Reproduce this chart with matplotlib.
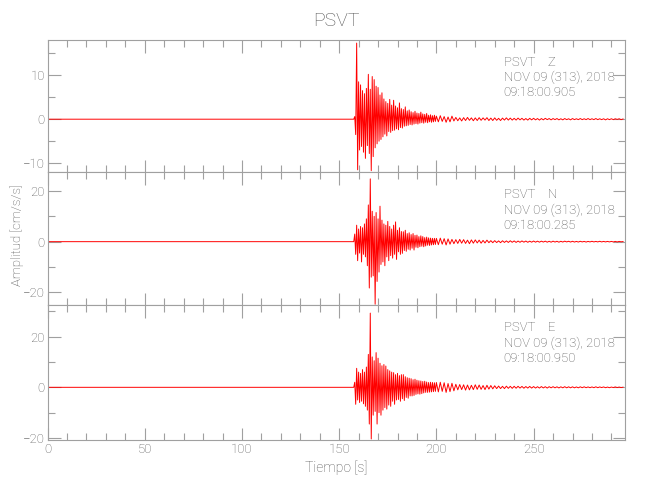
"""
Sismograma de aceleracion PSVT (Z, N, E)
Evento NOV 09 (313), 2018
"""
import numpy as np
import matplotlib
matplotlib.use('Agg')
import matplotlib.pyplot as plt
from matplotlib.ticker import MultipleLocator

# Estacion y componentes
estacion = 'PSVT'
componentes = ['Z', 'N', 'E']
fecha = 'NOV 09 (313), 2018'
horas = ['09:18:00.905', '09:18:00.285', '09:18:00.950']

# Muestreo: parte fuerte cada 0.5 s, cola cada 1 s
t_inicio = 158.0
dt_fuerte = 0.5
dt_cola = 1.0
t_cola = 200.0

# Componente Z [cm/s/s]
z_fuerte = [0.6, -3.5, 17.3, -11.5, 8.5, -7.0, 7.8, -6.2, 6.5, -7.5,
            5.8, -8.9, 7.0, -6.0, 10.2, -7.8, 6.8, -11.7, 9.7, -8.5,
            9.0, -6.5, 7.5, -5.6, 7.2, -5.0, 5.5, -4.6, 6.0, -4.0,
            4.6, -3.4, 4.0, -3.8, 3.6, -2.8, 4.5, -3.0, 3.2, -2.6,
            4.3, -2.5, 3.0, -2.2, 2.6, -2.4, 3.7, -1.9, 2.4, -2.0,
            2.2, -1.6, 2.8, -1.5, 1.9, -1.4, 2.1, -1.2, 1.7, -1.3,
            1.5, -1.1, 1.8, -1.0, 1.4, -1.1, 1.3, -0.9, 1.6, -0.8,
            1.2, -0.9, 1.1, -0.7, 1.3, -0.8, 0.9, -0.6, 1.0, -0.7,
            0.8, -0.6, 0.9, -0.5]
z_cola = [0.7, -0.6, 0.8, -0.5, 0.6, -0.7, 0.5, -0.6, 0.7, -0.4,
          0.4, -0.35, 0.3, -0.4, 0.35, -0.3, 0.4, -0.25, 0.3, -0.35,
          0.3, -0.3, 0.35, -0.25, 0.3, -0.2, 0.35, -0.3, 0.25, -0.3,
          0.3, -0.25, 0.2, -0.3, 0.25, -0.2, 0.3, -0.2, 0.25, -0.2,
          0.2, -0.2, 0.25, -0.15, 0.2, -0.2, 0.15, -0.2, 0.2, -0.15,
          0.2, -0.15, 0.15, -0.2, 0.15, -0.15, 0.2, -0.1, 0.15, -0.15,
          0.15, -0.1, 0.15, -0.15, 0.1, -0.15, 0.15, -0.1, 0.1, -0.15,
          0.15, -0.1, 0.1, -0.1, 0.15, -0.1, 0.1, -0.1, 0.15, -0.1,
          0.1, -0.1, 0.15, -0.1, 0.1, -0.1, 0.1, -0.15, 0.1, -0.1,
          0.1, -0.1, 0.1, -0.05, 0.1, -0.1, 0.05]

# Componente N [cm/s/s]
n_fuerte = [3.0, -5.0, 6.5, -7.5, 5.0, -4.5, 6.0, -8.0, 5.5, -5.0,
            7.0, -6.0, 9.0, -9.5, 14.5, -18.3, 24.8, -14.0, 12.0, -13.5,
            10.0, -24.7, 11.5, -15.7, 9.0, -12.0, 14.0, -9.0, 8.5, -8.0,
            7.0, -9.5, 6.5, -6.0, 8.0, -7.5, 6.0, -5.5, 5.0, -6.5,
            6.5, -5.0, 7.8, -7.0, 4.5, -4.0, 5.5, -5.0, 4.0, -4.6,
            3.9, -3.5, 4.5, -3.8, 3.2, -3.0, 3.5, -3.3, 2.8, -2.6,
            3.2, -3.3, 2.5, -2.2, 2.6, -2.4, 2.0, -2.0, 2.3, -1.8,
            2.0, -2.0, 1.6, -1.7, 1.8, -1.4, 1.5, -1.5, 1.4, -1.3,
            1.3, -1.2, 1.3, -1.1]
n_cola = [1.3, -1.2, 1.4, -1.0, 1.2, -1.3, 1.1, -1.0, 0.9, -0.8,
          0.8, -0.7, 0.9, -0.6, 0.8, -0.7, 0.6, -0.8, 0.7, -0.6,
          0.7, -0.5, 0.6, -0.6, 0.5, -0.5, 0.6, -0.4, 0.4, -0.4,
          0.4, -0.35, 0.3, -0.4, 0.35, -0.3, 0.3, -0.3, 0.35, -0.25,
          0.3, -0.3, 0.25, -0.25, 0.3, -0.2, 0.25, -0.25, 0.2, -0.2,
          0.25, -0.2, 0.2, -0.2, 0.2, -0.15, 0.2, -0.2, 0.15, -0.2,
          0.2, -0.15, 0.15, -0.2, 0.15, -0.15, 0.2, -0.1, 0.15, -0.15,
          0.15, -0.15, 0.1, -0.15, 0.15, -0.1, 0.1, -0.15, 0.1, -0.1,
          0.15, -0.1, 0.1, -0.1, 0.15, -0.1, 0.1, -0.1, 0.1, -0.1,
          0.1, -0.1, 0.1, -0.1, 0.1, -0.05, 0.05]

# Componente E [cm/s/s]
e_fuerte = [2.0, -6.7, 7.5, -5.0, 6.0, -6.0, 5.5, -5.5, 7.0, -6.5,
            6.0, -7.5, 8.0, -9.0, 13.0, -14.5, 29.3, -20.4, 12.0, -11.0,
            10.5, -9.5, 13.7, -14.5, 11.5, -10.0, 9.5, -11.0, 8.5, -9.0,
            9.0, -8.0, 8.4, -8.6, 7.0, -7.0, 6.5, -7.5, 6.0, -5.5,
            5.8, -6.7, 5.0, -5.0, 5.5, -4.8, 4.6, -5.5, 5.0, -4.5,
            5.0, -5.2, 4.2, -4.0, 3.8, -4.3, 3.6, -3.4, 3.4, -3.4,
            3.0, -3.2, 3.2, -2.8, 2.8, -2.6, 2.6, -2.7, 2.5, -2.5,
            2.3, -2.2, 2.4, -2.0, 2.1, -2.0, 1.9, -1.9, 2.0, -1.8,
            1.9, -1.7, 1.8, -1.6]
e_cola = [1.9, -1.8, 2.0, -1.6, 1.8, -2.0, 1.5, -1.7, 1.6, -1.4,
          1.2, -1.0, 1.1, -0.9, 1.0, -1.1, 0.9, -1.0, 0.8, -0.9,
          1.0, -0.8, 0.9, -0.8, 0.7, -0.9, 0.8, -0.7, 0.7, -0.6,
          0.6, -0.5, 0.5, -0.5, 0.4, -0.5, 0.45, -0.4, 0.4, -0.4,
          0.4, -0.35, 0.4, -0.3, 0.35, -0.35, 0.3, -0.3, 0.35, -0.3,
          0.3, -0.3, 0.25, -0.3, 0.3, -0.25, 0.25, -0.3, 0.25, -0.2,
          0.25, -0.2, 0.2, -0.25, 0.2, -0.2, 0.25, -0.2, 0.2, -0.2,
          0.2, -0.2, 0.15, -0.2, 0.2, -0.15, 0.2, -0.15, 0.15, -0.15,
          0.15, -0.15, 0.2, -0.15, 0.15, -0.1, 0.15, -0.15, 0.1, -0.15,
          0.1, -0.1, 0.15, -0.1, 0.1, -0.1, 0.05]

# Limites de cada panel y separacion de marcas en y
ylims = [(-12, 18), (-25, 27.5), (-20.8, 32.5)]
ymayor = [10, 20, 20]
ymenor = [5, 10, 10]
xmax = 297

gris = '#a0a0a0'
gris_texto = '#555555'
rojo = '#ff0000'
plt.rcParams['font.family'] = ['Roboto', 'DejaVu Sans']
plt.rcParams['font.weight'] = 'light'
plt.rcParams['axes.labelweight'] = 'light'


def armar_serie(fuerte, cola):
    # Antes del evento la senal es practicamente cero
    tf = t_inicio + dt_fuerte * np.arange(len(fuerte))
    tc = t_cola + dt_cola * np.arange(len(cola))
    t = np.concatenate([[0.0, t_inicio - dt_fuerte], tf, tc])
    a = np.concatenate([[0.0, 0.0], fuerte, cola])
    return t, a


series = [armar_serie(z_fuerte, z_cola),
          armar_serie(n_fuerte, n_cola),
          armar_serie(e_fuerte, e_cola)]

fig = plt.figure(figsize=(6.5, 5), dpi=100)
izq = 47.5 / 650
ancho = 577.5 / 650
# (abajo, alto) en fraccion de figura
cajas = [(1 - 172 / 500, 132 / 500), (1 - 305 / 500, 133 / 500), (1 - 440 / 500, 135 / 500)]

ejes = []
for i in range(3):
    ax = fig.add_axes([izq, cajas[i][0], ancho, cajas[i][1]])
    t, a = series[i]
    ax.plot(t, a, color=rojo, lw=0.7)
    ax.set_xlim(0, xmax)
    ax.set_ylim(*ylims[i])
    ax.xaxis.set_major_locator(MultipleLocator(50))
    ax.xaxis.set_minor_locator(MultipleLocator(10))
    ax.yaxis.set_major_locator(MultipleLocator(ymayor[i]))
    ax.yaxis.set_minor_locator(MultipleLocator(ymenor[i]))
    ax.tick_params(which='both', direction='in', top=True, right=True,
                   color=gris, labelcolor=gris_texto, labelsize=9.5, width=0.8,
                   pad=2)
    ax.tick_params(which='major', length=9)
    ax.tick_params(which='minor', length=5)
    for s in ax.spines.values():
        s.set_color(gris)
        s.set_linewidth(0.8)
    if i < 2:
        ax.tick_params(labelbottom=False)
    # Etiqueta de la componente
    ax.text(0.79, 0.83, f'{estacion}    {componentes[i]}', transform=ax.transAxes,
            color=gris_texto, fontsize=9.5, va='center')
    ax.text(0.79, 0.715, fecha, transform=ax.transAxes,
            color=gris_texto, fontsize=9.5, va='center')
    ax.text(0.79, 0.60, horas[i], transform=ax.transAxes,
            color=gris_texto, fontsize=9.5, va='center')
    ejes.append(ax)

ejes[2].set_xlabel('Tiempo [s]', color=gris_texto, fontsize=10, labelpad=3)
fig.text(0.026, 0.53, 'Amplitud [cm/s/s]', rotation=90, color=gris_texto,
         fontsize=9.5, ha='center', va='center')
fig.text(izq + ancho / 2, 0.958, estacion, color=gris_texto, fontsize=14,
         ha='center', va='center')

fig.savefig('out.png', dpi=100)
